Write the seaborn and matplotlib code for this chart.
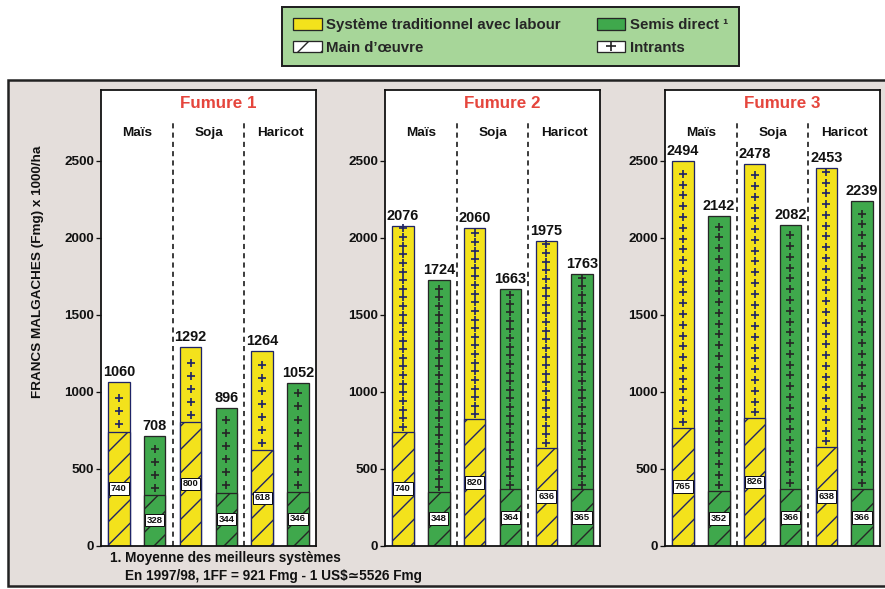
import numpy as np
import pandas as pd
import matplotlib.pyplot as plt
import seaborn as sns
from matplotlib.patches import Patch, Rectangle
from matplotlib.lines import Line2D

# Data (Fmg x 1000/ha)
cultures = ['Maïs', 'Soja', 'Haricot']
systemes = ['Système traditionnel avec labour', 'Semis direct']
fumures = ['Fumure 1', 'Fumure 2', 'Fumure 3']

trad_total = [[1060, 1292, 1264], [2076, 2060, 1975], [2494, 2478, 2453]]
sd_total = [[708, 896, 1052], [1724, 1663, 1763], [2142, 2082, 2239]]
trad_labour = [[740, 800, 618], [740, 820, 636], [765, 826, 638]]
sd_labour = [[328, 344, 346], [348, 364, 365], [352, 366, 366]]

rows = []
for i, f in enumerate(fumures):
    for j, c in enumerate(cultures):
        rows.append([f, c, systemes[0], trad_total[i][j], trad_labour[i][j]])
        rows.append([f, c, systemes[1], sd_total[i][j], sd_labour[i][j]])
df = pd.DataFrame(rows, columns=['fumure', 'culture', 'systeme', 'total', 'labour'])

# ==========================
# Style
# ==========================
DPI = 140
W, H = 885, 589


def px(v):
    # pixels -> points
    return v * 72 / DPI


yellow = '#f3e21c'
green = '#3fa84c'
navy = '#1f2466'
dark = '#262626'
red = '#e5453c'

sns.set_style('ticks')
plt.rcParams['font.family'] = ['Liberation Sans', 'DejaVu Sans']
plt.rcParams['font.weight'] = 'bold'
plt.rcParams['hatch.linewidth'] = px(1.4)

fig = plt.figure(figsize=(W / DPI, H / DPI), dpi=DPI)
fig.patch.set_facecolor('white')

# grey background frame
fig.add_artist(Rectangle((8 / W, 3 / H), 1.0, (586 - 80) / H, transform=fig.transFigure,
                         facecolor='#e4dedb', edgecolor='#222222', linewidth=px(2.5), zorder=-1))

lefts = [101, 385, 665]
plus_step = [85, 56, 70]
zero_y, top_y = 545.5, 90
ymax = (zero_y - top_y) / 0.154

for k, f in enumerate(fumures):
    ax = fig.add_axes([lefts[k] / W, (H - zero_y) / H, 215 / W, (zero_y - top_y) / H])
    ax.set_facecolor('white')
    sub = df[df['fumure'] == f]

    common = dict(x='culture', hue='systeme', order=cultures, hue_order=systemes,
                  palette=[yellow, green], saturation=1, width=1.0, gap=0.4,
                  linewidth=px(1.3), errorbar=None, legend=False, ax=ax)
    sns.barplot(data=sub, y='total', **common)
    sns.barplot(data=sub, y='labour', **common)

    edges = [navy, dark, navy, dark]
    for n, cont in enumerate(ax.containers):
        for bar in cont:
            bar.set_edgecolor(edges[n])
            if n >= 2:
                bar.set_hatch('//')

    # "+" marks for intrants
    for n in range(2):
        for bar_t, bar_l in zip(ax.containers[n], ax.containers[n + 2]):
            xc = bar_t.get_x() + bar_t.get_width() / 2
            step = plus_step[k]
            ys = np.arange(bar_l.get_height() + step * 0.55, bar_t.get_height() - step * 0.25, step)
            ax.plot([xc] * len(ys), ys, ls='none', marker='+', ms=px(8),
                    mew=px(1.7), color=edges[n])

    # value labels
    for n in range(2):
        ax.bar_label(ax.containers[n], fmt='%d', padding=px(3), fontsize=px(14.5), color='#111111')
        ax.bar_label(ax.containers[n + 2], fmt='%d', label_type='center', fontsize=px(9.5),
                     color='#111111',
                     bbox=dict(boxstyle='square,pad=0.18', fc='white', ec='#111111', lw=px(1)))

    # separators
    for xv in [0.5, 1.5]:
        ax.plot([xv, xv], [0, 2743], ls=(0, (3.2, 2.6)), color='#111111', lw=px(1.6))

    ax.text(1.13, 2873, f, ha='center', va='center', color=red, fontsize=px(17))
    for j, c in enumerate(cultures):
        ax.text(j, 2678, c, ha='center', va='center', fontsize=px(13.5), color='#111111')

    ax.set_xlim(-0.5, 2.5)
    ax.set_ylim(0, ymax)
    ax.set_yticks(range(0, 2501, 500))
    ax.set_xticks([])
    ax.set_xlabel('')
    ax.set_ylabel('')
    ax.tick_params(axis='y', length=px(5), width=px(1.3), labelsize=px(13.5), pad=px(2),
                   colors='#111111')
    for s in ax.spines.values():
        s.set_visible(True)
        s.set_linewidth(px(1.8))
        s.set_color('#111111')

fig.text(38 / W, 1 - 272 / H, 'FRANCS MALGACHES (Fmg) x 1000/ha', rotation=90,
         ha='center', va='center', fontsize=px(13.5), color='#111111')
fig.text(110 / W, 1 - 558 / H, '1. Moyenne des meilleurs systèmes', ha='left', va='center',
         fontsize=px(13.7), color='#111111')
fig.text(125 / W, 1 - 576 / H, 'En 1997/98, 1FF = 921 Fmg - 1 US$≃5526 Fmg', ha='left',
         va='center', fontsize=px(13.7), color='#111111')

# legend
handles = [
    Patch(facecolor=yellow, edgecolor=dark, linewidth=px(1.3)),
    Patch(facecolor='white', edgecolor=dark, hatch='//', linewidth=px(1.3)),
    Patch(facecolor=green, edgecolor=dark, linewidth=px(1.3)),
    (Patch(facecolor='white', edgecolor=dark, linewidth=px(1.3)),
     Line2D([], [], ls='none', marker='+', ms=px(9), mew=px(1.7), color=dark)),
]
labels = ['Système traditionnel avec labour', 'Main d\u2019œuvre', 'Semis direct ¹', 'Intrants']
leg = fig.legend(handles, labels, ncol=2, loc='center', bbox_to_anchor=(0.577, 0.938),
                 fontsize=px(15), handlelength=1.9, handleheight=0.8, labelspacing=0.55,
                 columnspacing=2.4, handletextpad=0.3, borderpad=0.75, borderaxespad=0,
                 fancybox=False, framealpha=1)
leg.get_frame().set_facecolor('#a7d699')
leg.get_frame().set_edgecolor('#222222')
leg.get_frame().set_linewidth(px(2))

fig.savefig('out.png', dpi=DPI)
